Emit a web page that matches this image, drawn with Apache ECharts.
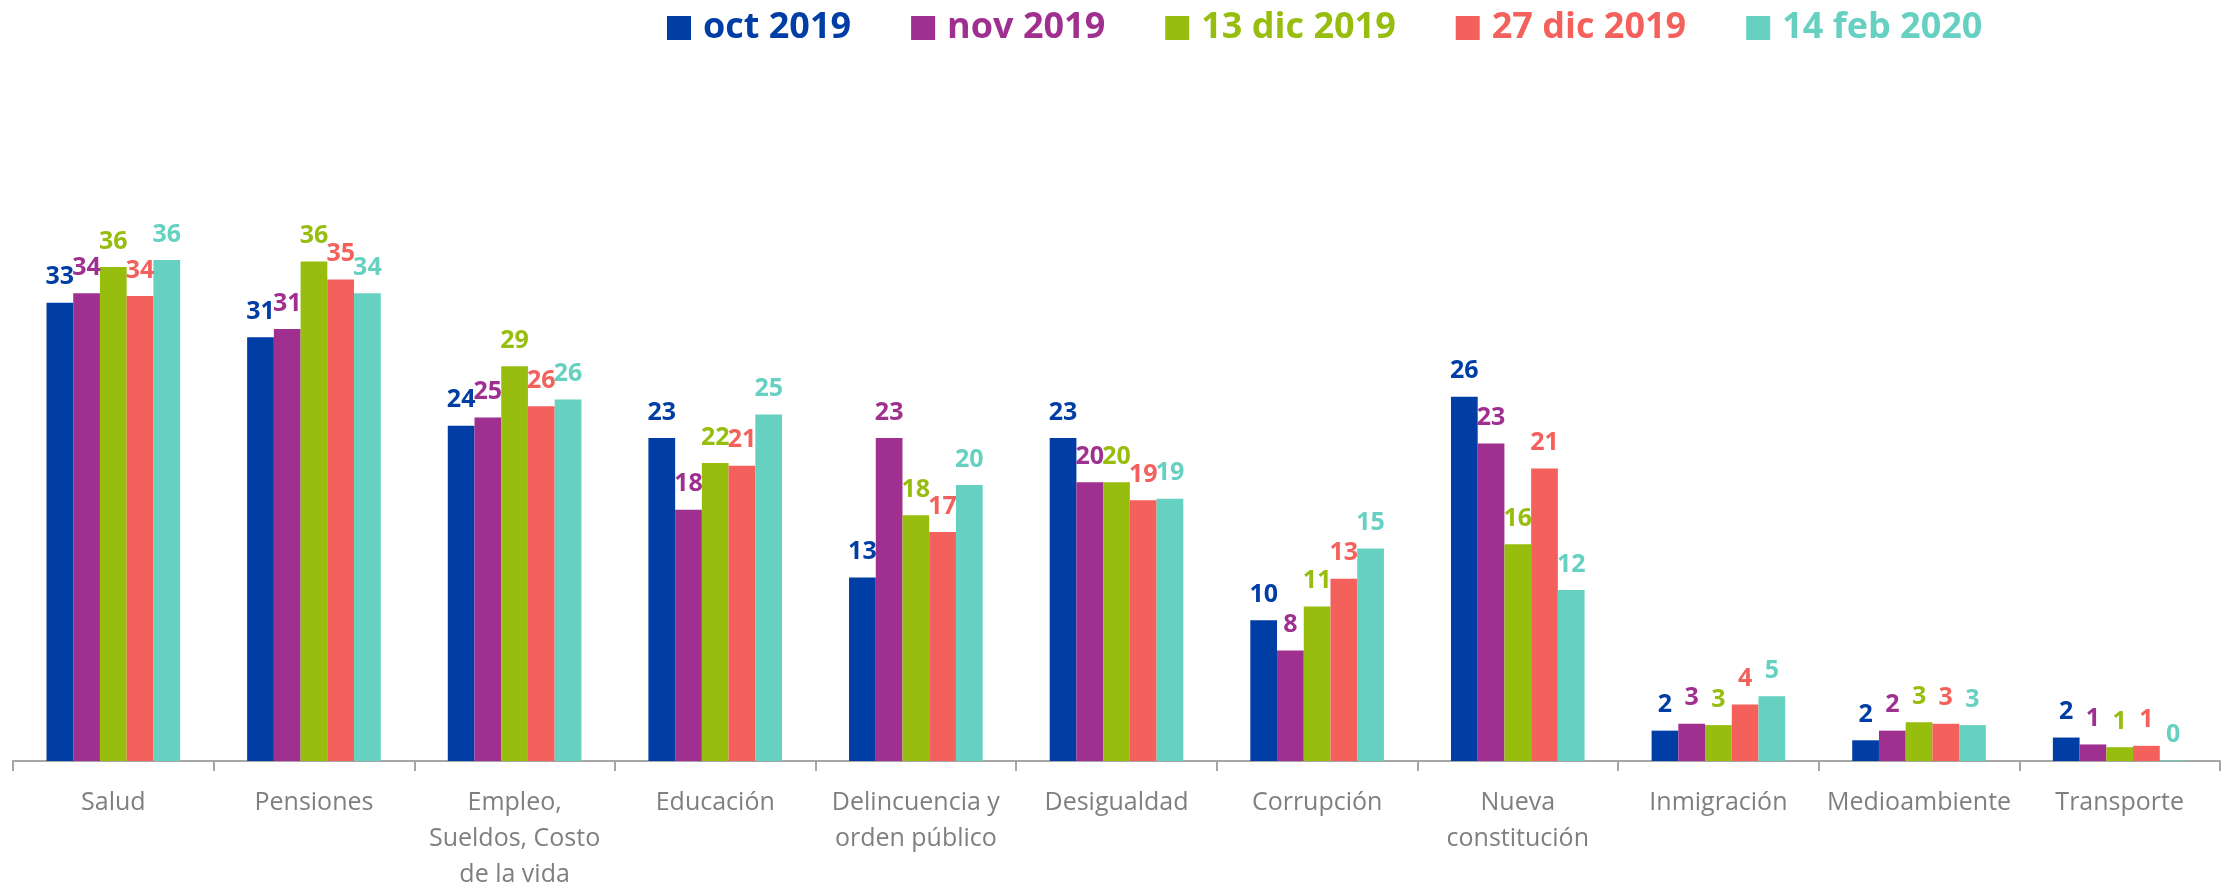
<!DOCTYPE html>
<html>
<head>
<meta charset="utf-8">
<script src="https://cdn.jsdelivr.net/npm/echarts@6/dist/echarts.min.js"></script>
<style>
html,body{margin:0;padding:0;background:#fff;}
#chart{width:2236px;height:893px;}
</style>
</head>
<body>
<div id="chart"></div>
<script>
const categories = ["Salud", "Pensiones", "Empleo,\nSueldos, Costo\nde la vida", "Educación", "Delincuencia y\norden público", "Desigualdad", "Corrupción", "Nueva\nconstitución", "Inmigración", "Medioambiente", "Transporte"];
const seriesNames = ["oct 2019", "nov 2019", "13 dic 2019", "27 dic 2019", "14 feb 2020"];
const oct2019 = [33.2, 30.7, 24.3, 23.4, 13.3, 23.4, 10.2, 26.4, 2.2, 1.5, 1.7];
const nov2019 = [33.9, 31.3, 24.9, 18.2, 23.4, 20.2, 8.0, 23.0, 2.7, 2.2, 1.2];
const dic13_2019 = [35.8, 36.2, 28.6, 21.6, 17.8, 20.2, 11.2, 15.7, 2.6, 2.8, 1.0];
const dic27_2019 = [33.7, 34.9, 25.7, 21.4, 16.6, 18.9, 13.2, 21.2, 4.1, 2.7, 1.1];
const feb14_2020 = [36.3, 33.9, 26.2, 25.1, 20.0, 19.0, 15.4, 12.4, 4.7, 2.6, 0.05];
const colors = ["#003DA5", "#A0308F", "#97BE0F", "#F4615C", "#66D0C1"];

const values = [oct2019, nov2019, dic13_2019, dic27_2019, feb14_2020];
const chart = echarts.init(document.getElementById('chart'));
const series = seriesNames.map((n, i) => ({
  name: n,
  type: 'bar',
  data: values[i],
  barGap: '0%',
  barCategoryGap: '33.4%',
  itemStyle: {color: colors[i]},
  label: {
    show: true,
    position: 'top',
    distance: 13,
    color: colors[i],
    fontFamily: 'Open Sans',
    fontWeight: 'bold',
    fontSize: 25,
    formatter: p => String(Math.round(p.value))
  }
}));
chart.setOption({
  animation: false,
  backgroundColor: '#ffffff',
  color: colors,
  legend: {
    left: 662,
    top: 3,
    padding: 5,
    itemWidth: 24,
    itemHeight: 24,
    itemGap: 60,
    icon: 'rect',
    data: seriesNames.map((n, i) => ({name: n, textStyle: {color: colors[i]}})),
    textStyle: {fontFamily: 'Open Sans', fontWeight: 'bold', fontSize: 36, lineHeight: 40, padding: [0, 0, 0, 7]}
  },
  grid: {left: 13, right: 16, top: 209, bottom: 124, containLabel: false},
  xAxis: {
    type: 'category',
    data: categories,
    axisLine: {lineStyle: {color: '#A6A6A6', width: 2}},
    axisTick: {show: true, length: 10, lineStyle: {color: '#A6A6A6', width: 2}},
    axisLabel: {fontFamily: 'Open Sans', fontSize: 25, color: '#7F7F7F', margin: 24, lineHeight: 36, interval: 0}
  },
  yAxis: {
    type: 'value', min: 0, max: 40,
    show: false,
    splitLine: {show: false}
  },
  series: series
});
</script>
</body>
</html>
